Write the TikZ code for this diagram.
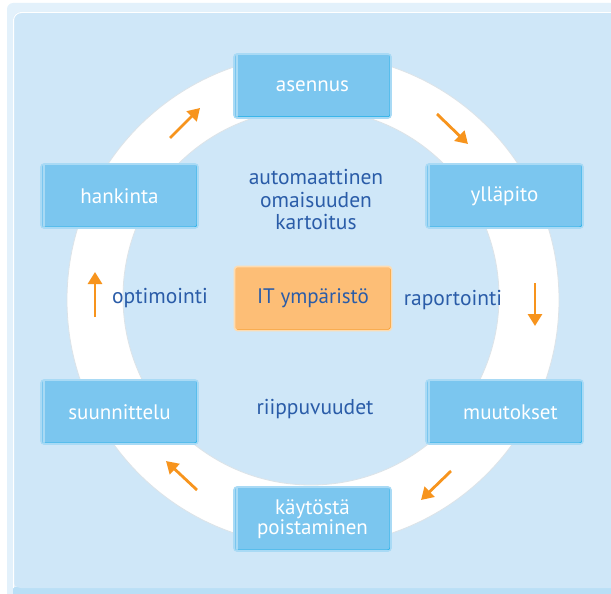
\documentclass[tikz,border=0pt]{standalone}
\usepackage{fontspec}
\setmainfont{PT Sans}
\usetikzlibrary{arrows.meta}

\definecolor{framecol}{HTML}{E3F1FB}
\definecolor{panelcol}{HTML}{CFE7F8}
\definecolor{stripcol}{HTML}{BADFF6}
\definecolor{boxblue}{HTML}{7BC6EF}
\definecolor{boxrim}{HTML}{A9DAF5}
\definecolor{boxedge}{HTML}{1AAEE8}
\definecolor{orfill}{HTML}{FDBE76}
\definecolor{orrim}{HTML}{FDDCB2}
\definecolor{oredge}{HTML}{F7941D}
\definecolor{arrowor}{HTML}{F7941D}
\definecolor{txtblue}{HTML}{2A5CA8}
\definecolor{ringshade}{HTML}{DCE3E8}

\tikzset{
  stepbox/.style={rectangle, rounded corners=3pt, line width=1.6pt,
    minimum width=157pt, minimum height=64pt, align=center,
    font=\fontsize{21}{20}\selectfont},
  bluebox/.style={stepbox, fill=boxblue, draw=boxrim, text=white,
    path picture={
      \draw[boxedge, line width=3pt]
        (path picture bounding box.south west) -- (path picture bounding box.south east)
        -- (path picture bounding box.north east);
      \draw[white, line width=0.9pt]
        ([shift={(3pt,-4pt)}]path picture bounding box.south west)
        -- ([shift={(3pt,3pt)}]path picture bounding box.north west)
        -- ([shift={(-4pt,3pt)}]path picture bounding box.north east);
    }},
  orangebox/.style={stepbox, fill=orfill, draw=orrim, text=txtblue,
    path picture={
      \draw[oredge, line width=3pt]
        (path picture bounding box.south west) -- (path picture bounding box.south east)
        -- (path picture bounding box.north east);
    }},
  label/.style={text=txtblue, align=center, font=\fontsize{21.5}{22.5}\selectfont},
  cyclearrow/.style={draw=arrowor, line width=2.8pt,
    -{Triangle[length=12pt,width=14pt]}},
}

\begin{document}
\begin{tikzpicture}[x=1pt, y=-1pt]
\useasboundingbox (0,0) rectangle (611,594);
\clip (0,0) rectangle (611,594);

% frame and panel
\fill[framecol, rounded corners=6pt] (7,3) rectangle (640,610);
\fill[stripcol] (13,587) rectangle (640,610);
\fill[panelcol, rounded corners=8pt] (13,12) rectangle (640,588);
\draw[white, line width=1pt, rounded corners=8pt] (13.5,588) -- (13.5,12.5) -- (640,12.5);

% white ring
\fill[white, even odd rule] (313,300) circle (246pt) (311,297) circle (188pt);
\draw[ringshade, line width=0.8pt] (313,300) circle (246pt);
\draw[ringshade, line width=0.8pt] (311,297) circle (188pt);

% cycle steps
\node[bluebox] (asennus)   at (312.5,86)  {asennus};
\node[bluebox] (yllapito)  at (504.5,196) {ylläpito};
\node[bluebox] (muutokset) at (504.5,412) {\hspace*{12pt}muutokset};
\node[bluebox] (poisto)    at (312.5,519) {käytöstä\\poistaminen};
\node[bluebox] (suunn)     at (119.5,412) {suunnittelu};
\node[bluebox] (hankinta)  at (119.5,196) {hankinta};

% centre
\node[orangebox] (it) at (313,298.5) {IT ympäristö};
\node[label] (kartoitus) at (316,200) {automaattinen\\omaisuuden\\kartoitus};
\node[label] (riippuvuudet) at (315,409) {riippuvuudet};
\node[label] (optimointi) at (160,298) {optimointi};
\node[label] (raportointi) at (453,300) {raportointi};

% arrows around the ring
\coordinate (a1s) at (170,138); \coordinate (a1e) at (200,108);
\coordinate (a2s) at (437,114); \coordinate (a2e) at (468,144);
\coordinate (a3s) at (535,283); \coordinate (a3e) at (535,326);
\coordinate (a4s) at (451,471); \coordinate (a4e) at (421,500);
\coordinate (a5s) at (197,490); \coordinate (a5e) at (166,461);
\coordinate (a6s) at (95,317);  \coordinate (a6e) at (95,272);
\foreach \i in {1,...,6} \draw[cyclearrow] (a\i s) -- (a\i e);
\end{tikzpicture}
\end{document}
